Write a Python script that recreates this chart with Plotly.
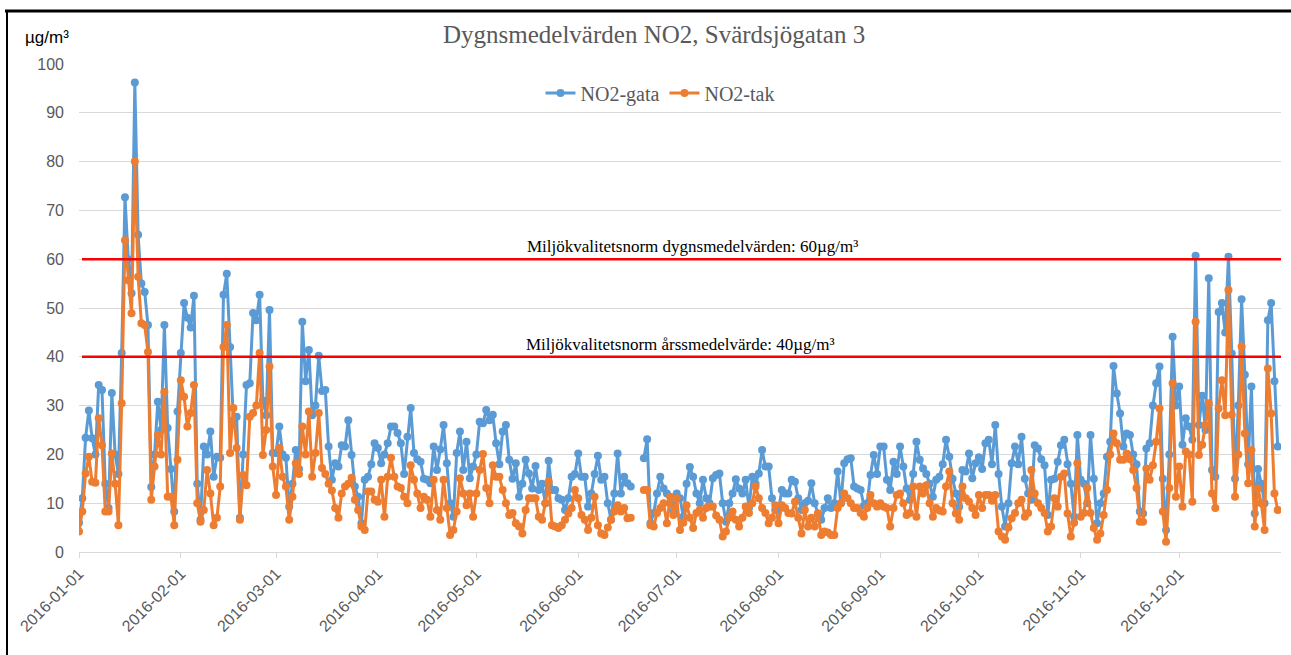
import pandas as pd
import plotly.graph_objects as go

# ---------------- data (daily means, µg/m³) ----------------
gata_jan = [6, 11, 23.4, 29, 23.3, 20, 34.2, 33.2, 14, 9, 32.6, 20, 16, 40.8, 72.7, 60, 53, 96.2, 65, 55,
            53.3, 46.5, 13.3, 20, 30.8, 25, 46.5, 25.4, 17, 8.3, 28.8]
gata_feb = [40.8, 51, 48, 46, 52.5, 14, 6.6, 21.6, 20, 24.7, 15.4, 19.5, 19.3, 52.7, 57, 42, 27, 27.7, 7, 20,
            34.2, 34.6, 49, 47.5, 52.7, 31, 28, 49.6, 20.3]
gata_mar = [20.3, 25.7, 20, 19.3, 9.3, 14, 20.9, 17, 47.2, 35, 41.4, 28, 30, 40.2, 33, 33.2, 21.6, 14.8, 18.2, 17.5,
            21.9, 21.6, 27, 19.9, 13.4, 11.3, 5.9, 14.8, 15.4, 18, 22.3]
gata_apr = [21.3, 18.2, 20, 22.3, 25.7, 25.7, 24.4, 22.3, 16, 23.6, 29.5, 20.3, 19, 18.5, 15, 14.8, 14.1, 21.6, 16.8, 21,
            26, 18.2, 10, 7.2, 20.3, 24.7, 16.8, 22.6, 15.1, 17.5]
gata_may = [20, 26.7, 26.4, 29.1, 27, 28.1, 22.3, 18, 24.7, 26, 18.9, 15, 18.2, 11.3, 14, 18.9, 16.1, 13, 17.6, 12.7,
            14, 10, 18.7, 12.7, 12.7, 11, 10.7, 8.6, 11, 15.4, 16]
gata_jun = [20.2, 15.4, 15.4, 9.3, 12, 16, 19.7, 14.8, 15.4, 10, 6.6, 12, 20.2, 12, 15.4, 14.1, 13.4, None, None, None,
            19.2, 23.1, 5.9, 8, 12, 15.4, 13, 12, 10, 8.3]
gata_jul = [12, 11, 7.2, 14, 17.4, 15.4, 12, 10, 14.8, 11, 10, 15.1, 15.8, 16.1, 10, 6.2, 10, 12, 14.9, 13,
            12, 14.8, 9, 15.4, 14, 16.1, 20.9, 17.5, 17.5, 11, 8.6]
gata_aug = [8.6, 12.7, 12, 12, 14.8, 14.4, 11, 8.6, 10, 10.5, 14.1, 10, 7.9, 6.6, 9, 11, 9, 10, 16.5, 10,
            18.2, 19, 19.2, 13.4, 13, 12.7, 9.5, 10, 15.8, 19.9, 16]
gata_sep = [21.6, 21.6, 14.8, 12.7, 18.5, 16, 21.6, 17.5, 13, 10.7, 16, 22.6, 18.9, 17.1, 16, 14, 11.3, 14.8, 15.4, 18,
            23, 19.5, 15, 12, 9.3, 16.8, 16.5, 20.2, 15.1, 18.2]
gata_oct = [19.4, 17, 22.3, 23, 18, 26, 16, 9.3, 5.2, 10, 18.2, 21.6, 18, 23.6, 15, 12, 10.7, 21.9, 21.2, 19,
            17.8, 7.6, 14.8, 15, 18.5, 21.9, 23, 18, 14, 7.2, 24]
gata_nov = [14.8, 14, 10, 24, 15, 5.9, 10, 12, 19.5, 22.6, 38.1, 32.5, 28.4, 21.6, 24.3, 24, 20, 18, 8.3, 7.9,
            21.2, 22.3, 30, 34.6, 38, 15, 4.5, 20, 44.1, 30]
gata_dec = [33.9, 22, 27.4, 25.7, 23, 60.7, 26, 32, 25, 56.1, 16.8, 15.4, 49.2, 51, 45, 60.5, 40.7, 15, 30, 51.8,
            36.3, 18, 33.9, 7.9, 17, 14, 10, 47.5, 51, 35, 21.6]

tak_jan = [4.2, 8.3, 16.1, 19.5, 14.4, 14.2, 27.4, 21.9, 8.3, 8.3, 20.2, 14, 5.5, 30.5, 63.9, 55.7, 48.9, 80, 56.4, 46.9,
           46.5, 41, 10.7, 17.5, 24, 20, 32.8, 11.3, 11.3, 5.5, 18.9]
tak_feb = [35.2, 31.8, 25.7, 28.5, 34.2, 10, 6.2, 8.6, 16.8, 12, 5.5, 7, 13.4, 42, 46.5, 20.3, 29.5, 21.3, 6.6, 15.8,
           13.7, 27.7, 28.5, 30, 40.8, 19.9, 25, 38, 17.5]
tak_mar = [11.7, 21.3, 15.4, 13.4, 6.6, 11.3, 18.2, 16, 25.7, 20, 28.8, 15.4, 20.3, 28.5, 17.2, 16, 14, 12.6, 9, 7,
           12, 13.4, 14, 15.2, 10.7, 8.6, 5.2, 4.5, 12.4, 12.4, 10.7]
tak_apr = [10.3, 14.8, 7.2, 15.4, 19.3, 15.4, 13.4, 13.1, 11.3, 10, 17.8, 14.8, 12, 9, 11.3, 10.7, 7.2, 14.8, 8.6, 6.6,
           14.8, 9, 3.5, 4.5, 8.3, 15.1, 12, 9.6, 12, 7.2]
tak_may = [12, 16.8, 20.1, 13.1, 10, 17.8, 15.4, 15.4, 12.7, 10, 7.6, 8, 5.9, 5.2, 3.8, 8.6, 11, 11, 11, 7.2,
           6.6, 10, 14.4, 5.5, 5.2, 4.9, 5.5, 6.6, 7.9, 9, 12.7]
tak_jun = [11, 7.6, 6.6, 4.5, 7, 11.3, 5.5, 3.8, 3.5, 5, 6.6, 8.3, 9.6, 8.3, 9, 6.9, 7, None, None, None,
           12.7, 12.7, 5.5, 5.2, 8, 9, 10, 5.9, 11.3, 7.6]
tak_jul = [11, 4.5, 6, 9.6, 7, 4.9, 8, 8.6, 7, 9, 9.3, 9.3, 7.5, 6.6, 3.2, 4.2, 7, 8.3, 6.6, 5.2,
           7, 9.3, 8, 10, 13.4, 11, 9, 8, 5.9, 7, 9.6]
tak_aug = [5.9, 9.6, 9, 8, 7.9, 10.3, 7, 3.8, 8.6, 5.2, 7, 5.2, 7.9, 3.5, 4.2, 4, 3.5, 3.5, 9, 10,
           12, 11, 10, 9, 9, 8, 7.2, 9, 11.7, 10, 9.3]
tak_sep = [10, 9.3, 9, 5.2, 9, 11.7, 12, 10, 7.6, 8, 13.4, 7.2, 13.4, 12, 13.7, 10, 7.2, 9, 8.5, 8.3,
           13.4, 16.5, 10, 7.9, 6.6, 13.4, 11, 10.3, 9, 7.6]
tak_oct = [11.7, 9, 11.7, 11.7, 10.5, 11.7, 4.2, 3.2, 2.5, 5, 6.9, 8, 10, 10.7, 7.2, 8, 16.8, 12, 10, 9,
           8, 4.2, 5.2, 11, 9.3, 15.4, 16.1, 7.9, 3.2, 6, 18.2]
tak_nov = [7.2, 8, 13.1, 8, 4.9, 2.5, 3.8, 7.6, 12.7, 20, 24.3, 22.3, 18.9, 18.9, 20.2, 19, 16.8, 13.1, 6.2, 6.2,
           17.1, 14.8, 17.8, 22.6, 29.4, 8.3, 2.1, 13.1, 34.6, 11.3]
tak_dec = [17.5, 9.3, 20.6, 20, 10.3, 47.2, 19.9, 22, 26, 30.5, 12, 9, 29.4, 35.2, 28, 53.7, 28.1, 11.3, 20, 42.1,
           24.3, 14.1, 20.9, 5.2, 13, 10, 4.5, 37.6, 28.4, 12, 8.6]

series_names = ["NO2-gata", "NO2-tak"]
limit_values = [60, 40]
limit_labels = ["Miljökvalitetsnorm dygnsmedelvärden: 60µg/m³",
                "Miljökvalitetsnorm årssmedelvärde: 40µg/m³"]
month_ticks = pd.date_range("2016-01-01", "2016-12-01", freq="MS")

no2_gata = (gata_jan + gata_feb + gata_mar + gata_apr + gata_may + gata_jun +
            gata_jul + gata_aug + gata_sep + gata_oct + gata_nov + gata_dec)
no2_tak = (tak_jan + tak_feb + tak_mar + tak_apr + tak_may + tak_jun +
           tak_jul + tak_aug + tak_sep + tak_oct + tak_nov + tak_dec)
dates = pd.date_range("2016-01-01", periods=len(no2_gata), freq="D")

# ---------------- figure ----------------
W, H = 1291, 655
ML, MR, MT, MB = 79, 10, 64, 103
PW, PH = W - ML - MR, H - MT - MB


def px_x(px):
    return (px - ML) / PW


def px_y(py):
    return (H - MB - py) / PH


BLUE = "#5B9BD5"
ORANGE = "#ED7D31"
GREY = "#595959"
SERIF = "Liberation Serif, Times New Roman, serif"
SANS = "Liberation Sans, Arial, sans-serif"

fig = go.Figure()
for name, vals, col in [(series_names[0], no2_gata, BLUE), (series_names[1], no2_tak, ORANGE)]:
    fig.add_trace(go.Scatter(
        x=dates, y=vals, name=name, mode="lines+markers",
        line=dict(color=col, width=3),
        marker=dict(color=col, size=8, symbol="circle"),
        connectgaps=False,
    ))

shapes = []
for v in limit_values:
    shapes.append(dict(type="line", xref="paper", yref="y", x0=px_x(82), x1=px_x(1281),
                       y0=v, y1=v, line=dict(color="#FF0000", width=2.5)))
# picture frame (black border)
shapes.append(dict(type="line", xref="paper", yref="paper", x0=px_x(5), x1=px_x(1300),
                   y0=px_y(11), y1=px_y(11), line=dict(color="black", width=3)))
shapes.append(dict(type="line", xref="paper", yref="paper", x0=px_x(7), x1=px_x(7),
                   y0=px_y(11), y1=px_y(670), line=dict(color="black", width=2)))

annotations = [
    dict(text="Dygnsmedelvärden NO2, Svärdsjögatan 3", xref="paper", yref="paper",
         x=px_x(654), y=px_y(34), xanchor="center", yanchor="middle", showarrow=False,
         font=dict(family=SERIF, size=25, color=GREY)),
    dict(text="µg/m³", xref="paper", yref="paper", x=px_x(23), y=px_y(37),
         xanchor="left", yanchor="middle", showarrow=False,
         font=dict(family=SANS, size=17, color="black")),
    dict(text=limit_labels[0], xref="paper", yref="y", x=px_x(692), y=limit_values[0],
         xanchor="center", yanchor="bottom", yshift=1, showarrow=False,
         font=dict(family=SERIF, size=17, color="black")),
    dict(text=limit_labels[1], xref="paper", yref="y", x=px_x(680), y=limit_values[1],
         xanchor="center", yanchor="bottom", yshift=1, showarrow=False,
         font=dict(family=SERIF, size=17, color="black")),
]

fig.update_layout(
    width=W, height=H, autosize=False,
    margin=dict(l=ML, r=MR, t=MT, b=MB),
    paper_bgcolor="white", plot_bgcolor="white",
    shapes=shapes, annotations=annotations,
    showlegend=True,
    legend=dict(orientation="h", x=px_x(660), y=px_y(93), xanchor="center", yanchor="middle",
                font=dict(family=SERIF, size=20, color=GREY), bgcolor="rgba(0,0,0,0)",
                itemwidth=30, tracegroupgap=0),
    xaxis=dict(range=["2016-01-01", "2017-01-01"], tickvals=month_ticks,
               tickformat="%Y-%m-%d", tickangle=-45, showgrid=False,
               showline=True, linecolor="#D9D9D9", linewidth=1,
               ticks="outside", ticklen=5, tickcolor="#D9D9D9",
               tickfont=dict(family=SANS, size=16, color=GREY), zeroline=False),
    yaxis=dict(range=[0, 100], dtick=10, showgrid=True, gridcolor="#D9D9D9", gridwidth=1,
               zeroline=False, showline=False, ticks="", ticklabelstandoff=14,
               tickfont=dict(family=SANS, size=16, color=GREY)),
)

fig.write_html("out.html", config={"displayModeBar": False},
               post_script="document.body.style.margin='0';document.body.style.overflow='hidden';")
